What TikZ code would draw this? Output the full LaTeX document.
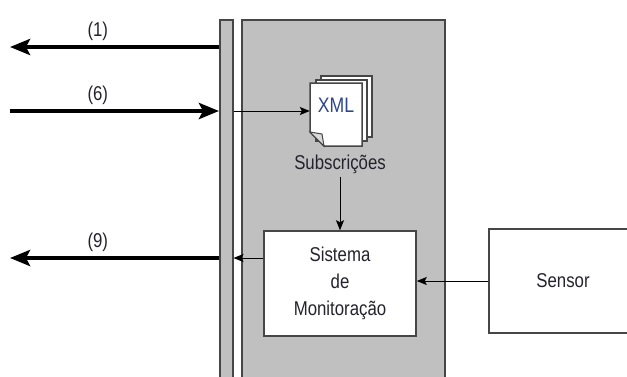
\documentclass[tikz,border=0pt]{standalone}
\usepackage{fontspec}
\setmainfont{Liberation Sans}[FakeStretch=0.84]
\usetikzlibrary{arrows.meta,positioning}
\definecolor{panelgray}{RGB}{192,192,192}
\definecolor{edgegray}{RGB}{70,70,70}
\definecolor{xmlblue}{RGB}{45,70,140}
\definecolor{textgray}{RGB}{35,35,45}

\tikzset{
  bigarrow/.style={line width=4.5pt, -{Stealth[length=20pt, width=16pt, inset=4pt]}},
  smallarrow/.style={line width=1pt, -{Stealth[length=10pt, width=8pt, inset=2pt]}},
  box/.style={draw=edgegray, line width=1.5pt, fill=white, rectangle},
  page/.style={draw=edgegray, line width=1.5pt, fill=white}
}

\begin{document}
\begin{tikzpicture}[x=1pt, y=-1pt, font=\fontsize{20}{27}\selectfont, text=textgray]
  \useasboundingbox (0,0) rectangle (627,376);

  % Bus bar and grey panel
  \node[draw=edgegray, line width=1.5pt, fill=panelgray, anchor=north west,
    minimum width=13pt, minimum height=380pt, inner sep=0pt] (bus) at (219,19) {};
  \node[draw=edgegray, line width=1.5pt, fill=panelgray, anchor=north west,
    minimum width=203pt, minimum height=390pt, inner sep=0pt] (panel) at (241,19) {};

  % Stacked XML pages
  \draw[page] (321,76) rectangle (372,137);
  \draw[page] (316,80) rectangle (367,141);
  \draw[page] (310,83) -- (362,83) -- (362,146) -- (324,146) -- (310,132) -- cycle;
  \draw[draw=edgegray, line width=1pt, fill=panelgray!60] %
    (310,132) -- (322,134) -- (324,146) -- cycle;
  \node[minimum width=52pt, minimum height=63pt, inner sep=0pt] (doc) at (336,114.5) {};
  \node[text=xmlblue, font=\fontsize{21}{24}\selectfont] (xmltxt) at (336,105) {XML};
  \node (sublabel) at (340,164) {Subscrições};

  % Boxes
  \node[box, minimum width=152pt, minimum height=105pt, align=center] (mon) at (340,283.5)
    {Sistema\\de\\Monitoração};
  \node[box, minimum width=148pt, minimum height=104pt] (sensor) at (563,281) {Sensor};

  % Outer arrows
  \coordinate (out1) at (10,47);
  \coordinate (in6) at (10,111);
  \coordinate (out9) at (10,258);
  \draw[bigarrow] (bus.west |- out1) -- (out1) node[pos=0.58, above, yshift=1pt] {(1)};
  \draw[bigarrow] (in6) -- (bus.west |- in6) node[pos=0.42, above, yshift=1pt] {(6)};
  \draw[bigarrow] (bus.west |- out9) -- (out9) node[pos=0.58, above, yshift=1pt] {(9)};

  % Inner arrows
  \draw[smallarrow] (bus.east |- in6) -- (doc.west |- in6);
  \draw[smallarrow] (sublabel.south) -- (mon.north);
  \draw[smallarrow] (mon.west |- out9) -- (bus.east |- out9);
  \draw[smallarrow] (sensor.west) -- (mon.east |- sensor.west);
\end{tikzpicture}
\end{document}
